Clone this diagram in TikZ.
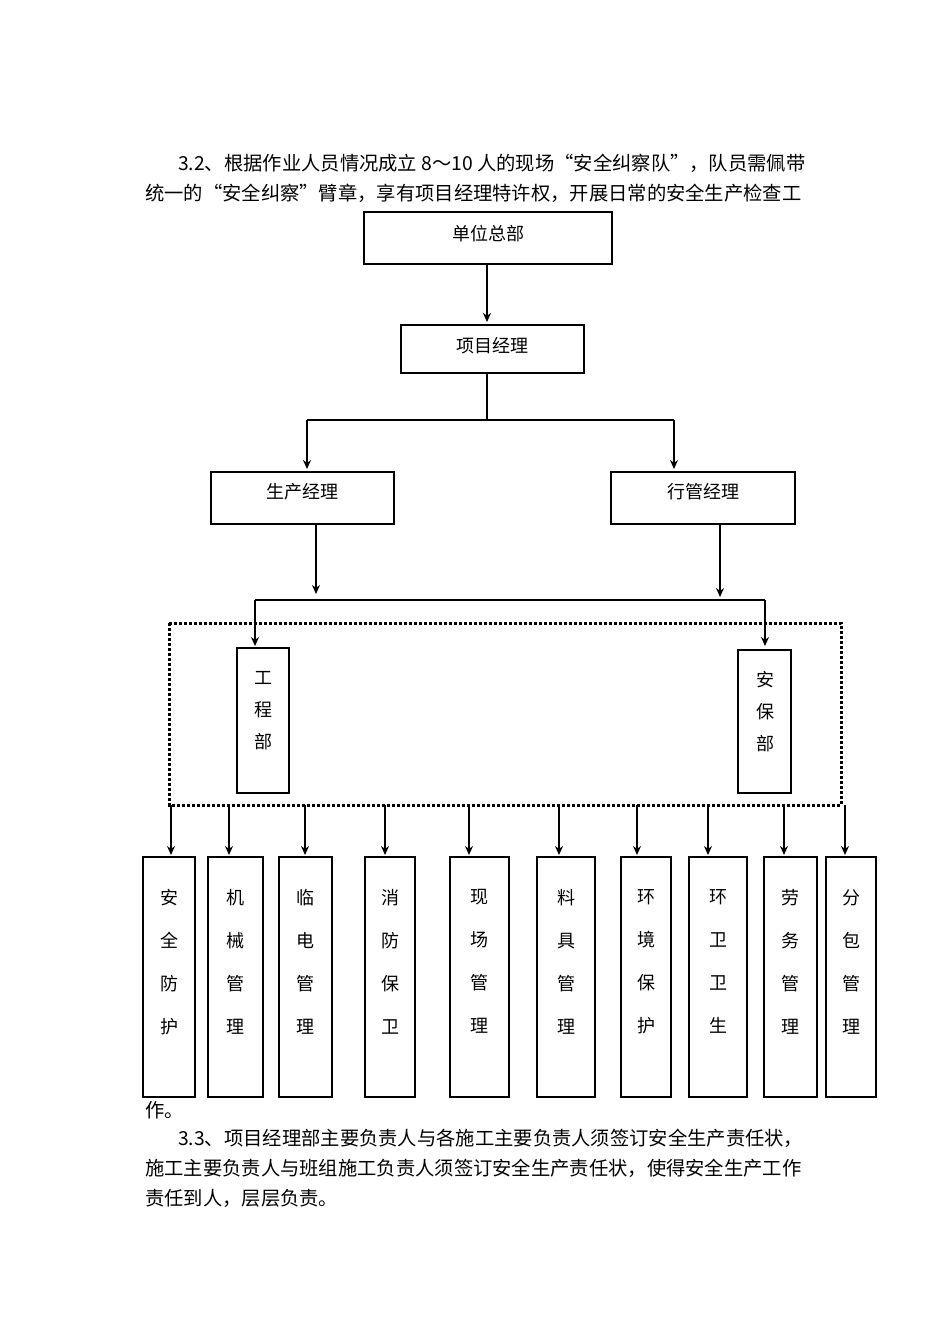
\documentclass[tikz,border=0pt]{standalone}
\usepackage{fontspec}
\setmainfont{Noto Sans CJK SC}
\usetikzlibrary{arrows.meta}
\begin{document}
\begin{tikzpicture}[x=1pt,y=-1pt,
 box/.style={draw,line width=2.5pt,inner sep=0pt},
 arr/.style={line width=2.5pt,-{Stealth[length=9pt,width=8pt]}},
 ln/.style={line width=2.5pt},
 txt/.style={anchor=west,inner sep=0pt,font=\fontsize{19.3}{19.3}\selectfont},
 lbl/.style={font=\fontsize{18}{18}\selectfont},
 vs/.style={font=\fontsize{18}{32}\selectfont,align=center},
 vl/.style={font=\fontsize{18}{43}\selectfont,align=center}]
\useasboundingbox[fill=white] (0,0) rectangle (950,1344);
\node[txt] (t1) at (178,163) {3.2、根据作业人员情况成立 8～10 人的现场“安全纠察队”，队员需佩带};
\node[txt] (t2) at (145,193) {统一的“安全纠察”臂章，享有项目经理特许权，开展日常的安全生产检查工};
\draw[box] (364,212) rectangle (612,264); \node[lbl] (a) at (488,234) {单位总部};
\draw[box] (401,325) rectangle (584,373); \node[lbl] (b) at (492,346) {项目经理};
\draw[arr] (487,264) -- (487,322);
\draw[ln] (487,373) -- (487,420);
\draw[ln] (307,420) -- (674,420);
\draw[arr] (307,420) -- (307,469);
\draw[arr] (674,420) -- (674,469);
\draw[box] (211,472) rectangle (394,524); \node[lbl] (c) at (302,492) {生产经理};
\draw[box] (611,472) rectangle (795,524); \node[lbl] (d) at (703,492) {行管经理};
\draw[arr] (316,524) -- (316,594);
\draw[arr] (720,524) -- (720,597);
\draw[ln] (255,600) -- (765,600);
\draw[arr] (255,600) -- (255,646);
\draw[arr] (765,600) -- (765,646);
\draw[line width=3pt,dotted] (169,623) rectangle (841,805);
\draw[box] (237,648) rectangle (289,793); \node[vs] (e) at (263,711) {工\\程\\部};
\draw[box] (738,650) rectangle (791,793); \node[vs] (f) at (765,712) {安\\保\\部};
\foreach \ax/\l/\r/\t [count=\i] in {171/143/195/安\\全\\防\\护, 229/208/263/机\\械\\管\\理, 305/279/332/临\\电\\管\\理, 385/365/415/消\\防\\保\\卫, 469/450/509/现\\场\\管\\理, 559/537/595/料\\具\\管\\理, 637/621/671/环\\境\\保\\护, 708/689/747/环\\卫\\卫\\生, 784/764/817/劳\\务\\管\\理, 845/826/876/分\\包\\管\\理}{
 \draw[arr] (\ax,805) -- (\ax,855);
 \draw[box] (\l,857) rectangle (\r,1097);
 \node[vl,anchor=north] (g\i) at ({(\l+\r)/2},886) {\t};
}
\node[txt] (t3) at (145,1110) {作。};
\node[txt] (t4) at (178,1138) {3.3、项目经理部主要负责人与各施工主要负责人须签订安全生产责任状，};
\node[txt] (t5) at (145,1168) {施工主要负责人与班组施工负责人须签订安全生产责任状，使得安全生产工作};
\node[txt] (t6) at (145,1198) {责任到人，层层负责。};
\end{tikzpicture}
\end{document}
